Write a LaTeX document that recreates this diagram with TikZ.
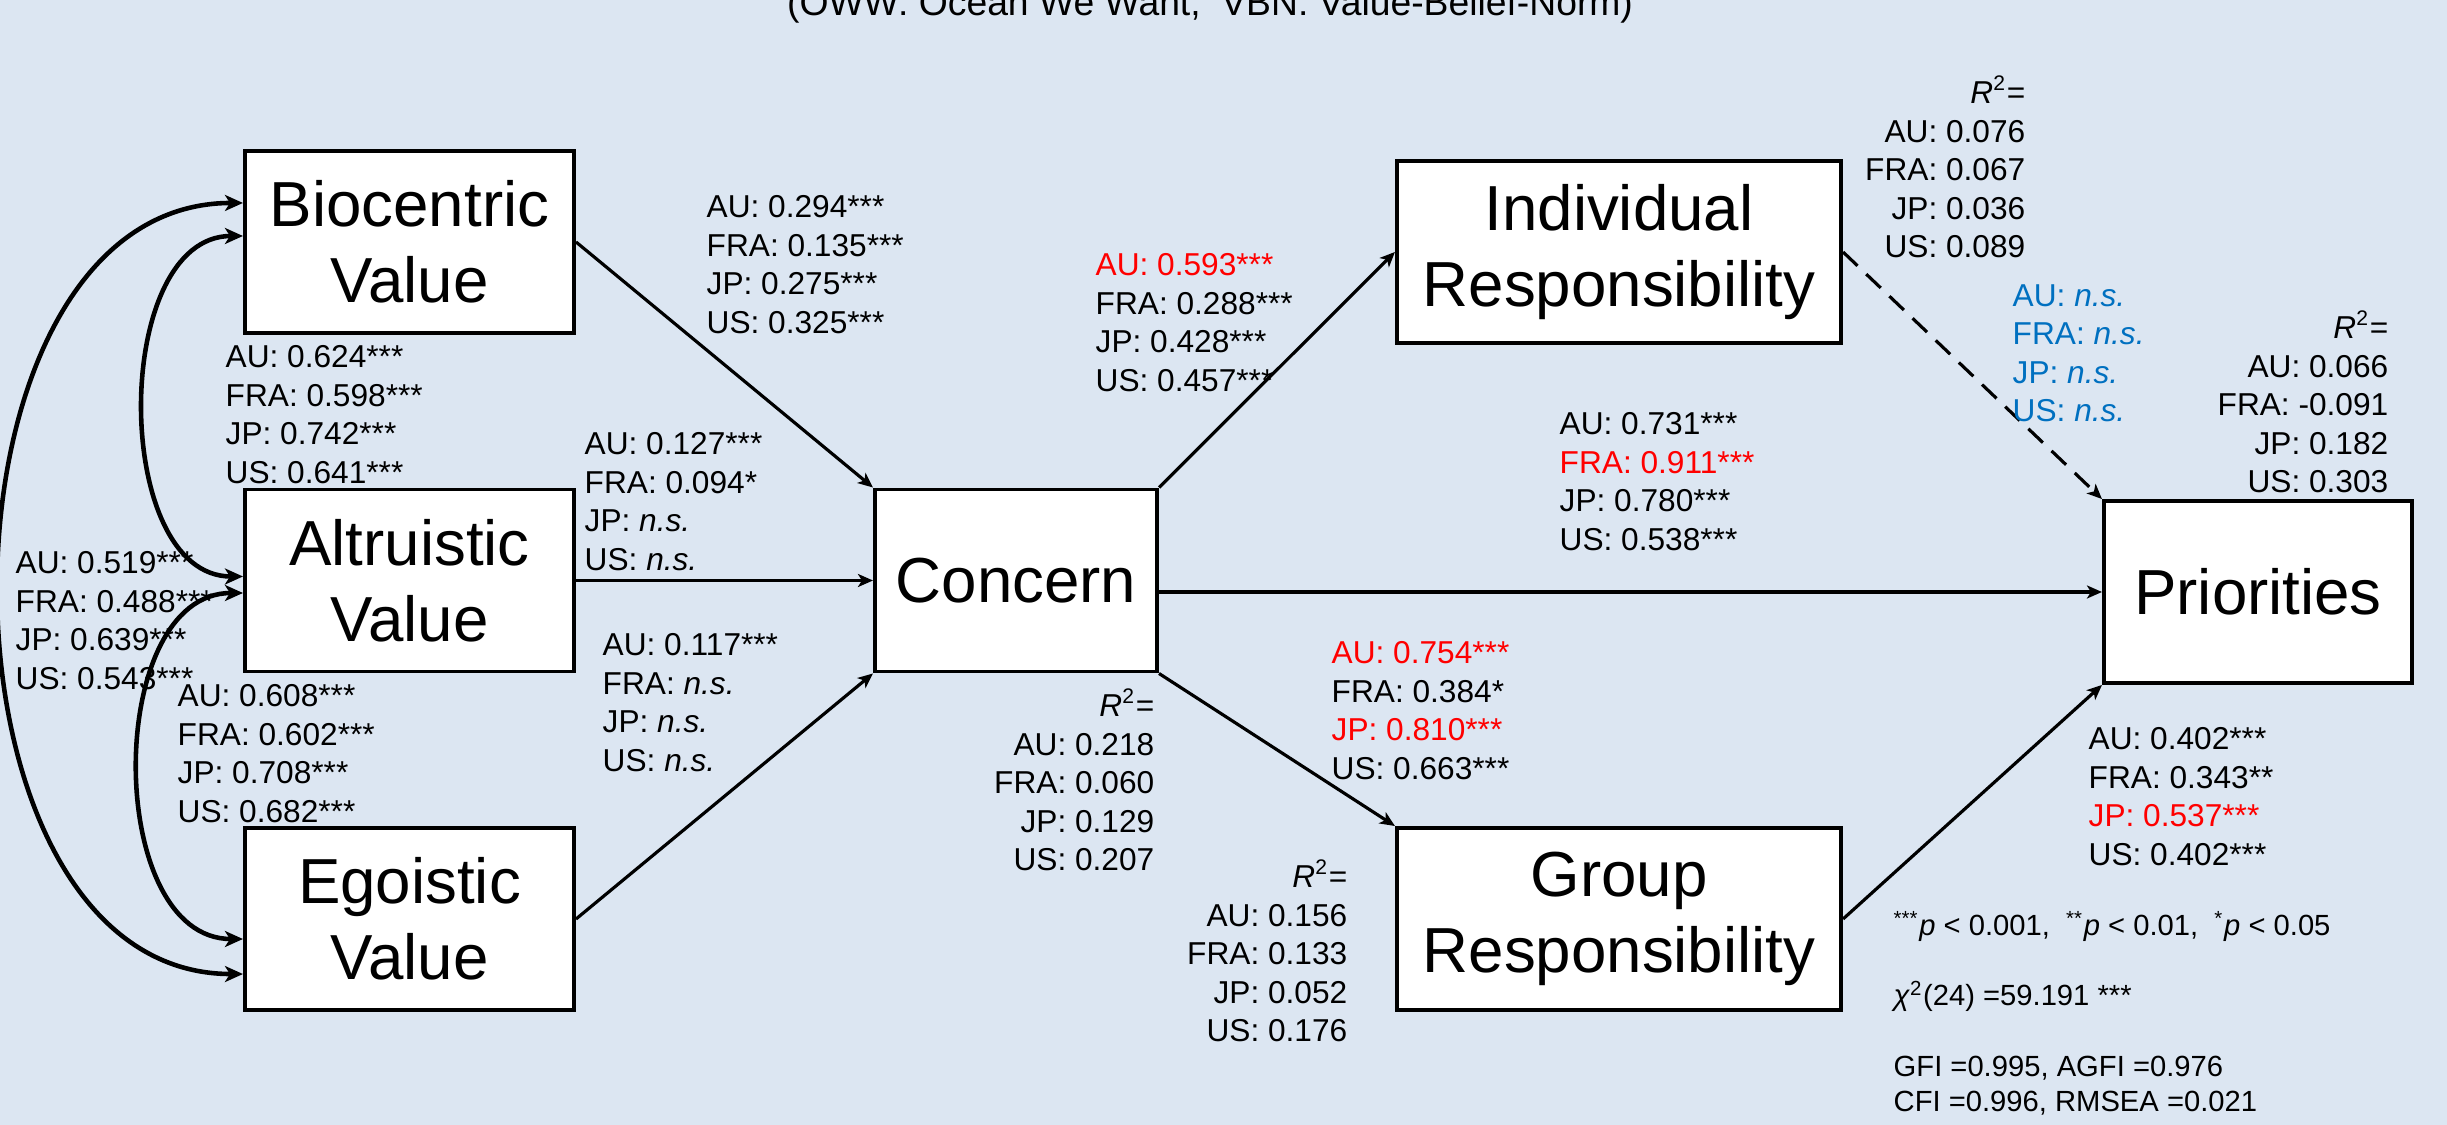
\documentclass[tikz,border=0pt]{standalone}
\usepackage{fontspec}
\setmainfont{Liberation Sans}
\usepackage{xcolor}
\usepackage{tikz}
\usetikzlibrary{arrows.meta}
\definecolor{bgblue}{HTML}{DCE6F2}
\definecolor{sigred}{HTML}{FF0000}
\definecolor{nsblue}{HTML}{0070C0}
\tikzset{
  var/.style={draw, line width=1.1pt, fill=white, inner sep=0pt, align=center, minimum width=3.29cm, minimum height=1.82cm, font=\fontsize{18.1}{21.6}\selectfont},
  coef/.style={anchor=north west, inner sep=0pt, align=left, font=\fontsize{9}{10.95}\selectfont},
  rsq/.style={anchor=north east, inner sep=0pt, align=right, font=\fontsize{9}{10.95}\selectfont},
  note/.style={anchor=north west, inner sep=0pt, align=left, font=\fontsize{8.3}{10}\selectfont},
  effect/.style={-{Stealth[length=0.15cm, width=0.13cm, inset=0.04cm]}, line width=0.9pt},
  nseffect/.style={effect, dash pattern=on 0.2cm off 0.12cm},
  corr/.style={{Stealth[length=0.18cm, width=0.16cm, inset=0.05cm]}-{Stealth[length=0.18cm, width=0.16cm, inset=0.05cm]}, line width=1.3pt}
}
\begin{document}
\begin{tikzpicture}[x=0.01cm, y=-0.01cm]
  \useasboundingbox (0,0) rectangle (2447,1125);
  \fill[bgblue] (0,0) rectangle (2447,1125);
  \node[anchor=base, inner sep=0pt, font=\fontsize{10.6}{12}\selectfont] (title) at (1210,16) {(OWW: Ocean We Want,\ \ VBN: Value-Belief-Norm)};

  % Constructs
  \node[var] (Bio) at (409.5,242) {Biocentric\\Value};
  \node[var] (Alt) at (409.5,580.5) {Altruistic\\Value};
  \node[var] (Ego) at (409.5,919) {Egoistic\\Value};
  \node[var, minimum width=2.82cm] (Con) at (1016,580.5) {Concern};
  \node[var, minimum width=4.44cm] (Ind) at (1619,252) {Individual\\Responsibility};
  \node[var, minimum width=4.44cm] (Grp) at (1619,919) {Group\\Responsibility};
  \node[var, minimum width=3.08cm] (Pri) at (2258,592) {Priorities};

  % Paths
  \draw[effect] (Bio.east) -- (Con.north west);
  \draw[effect] (Alt.east) -- (Con.west);
  \draw[effect] (Ego.east) -- (Con.south west);
  \draw[effect] (Con.north east) -- (Ind.west);
  \draw[effect] (Con.east |- Pri.west) -- (Pri.west);
  \draw[effect] (Con.south east) -- (Grp.north west);
  \draw[nseffect] (Ind.east) -- (Pri.north west);
  \draw[effect] (Grp.east) -- (Pri.south west);

  % Correlations
  \draw[corr] ([yshift=0.39cm]Bio.west) .. controls +(-324,0) and +(-324,0) .. ([yshift=-0.55cm]Ego.west);
  \draw[corr] ([yshift=0.06cm]Bio.west) .. controls +(-132,0) and +(-132,0) .. ([yshift=0.04cm]Alt.west);
  \draw[corr] ([yshift=-0.125cm]Alt.west) .. controls +(-139,0) and +(-139,0) .. ([yshift=-0.2cm]Ego.west);

  % Coefficients
  \node[coef] (kBioAlt) at (225,345) {AU: 0.624***\\FRA: 0.598***\\JP: 0.742***\\US: 0.641***};
  \node[coef] (kBioEgo) at (15,551) {AU: 0.519***\\FRA: 0.488***\\JP: 0.639***\\US: 0.543***};
  \node[coef] (kAltEgo) at (177,684) {AU: 0.608***\\FRA: 0.602***\\JP: 0.708***\\US: 0.682***};
  \node[coef] (kBioCon) at (706,195) {AU: 0.294***\\FRA: 0.135***\\JP: 0.275***\\US: 0.325***};
  \node[coef] (kAltCon) at (584,432) {AU: 0.127***\\FRA: 0.094*\\JP: \textit{n.s.}\\US: \textit{n.s.}};
  \node[coef] (kEgoCon) at (602,633) {AU: 0.117***\\FRA: \textit{n.s.}\\JP: \textit{n.s.}\\US: \textit{n.s.}};
  \node[coef] (kConInd) at (1095,253) {\textcolor{sigred}{AU: 0.593***}\\FRA: 0.288***\\JP: 0.428***\\US: 0.457***};
  \node[coef] (kConPri) at (1559,412) {AU: 0.731***\\\textcolor{sigred}{FRA: 0.911***}\\JP: 0.780***\\US: 0.538***};
  \node[coef] (kConGrp) at (1331,641) {\textcolor{sigred}{AU: 0.754***}\\FRA: 0.384*\\\textcolor{sigred}{JP: 0.810***}\\US: 0.663***};
  \node[coef, text=nsblue] (kIndPri) at (2012,284) {AU: \textit{n.s.}\\FRA: \textit{n.s.}\\JP: \textit{n.s.}\\US: \textit{n.s.}};
  \node[coef] (kGrpPri) at (2088,727) {AU: 0.402***\\FRA: 0.343**\\\textcolor{sigred}{JP: 0.537***}\\US: 0.402***};

  % Explained variance
  \node[rsq] (rCon) at (1155,688) {\textit{R}\textsuperscript{2}=\\AU: 0.218\\FRA: 0.060\\JP: 0.129\\US: 0.207};
  \node[rsq] (rInd) at (2026,75) {\textit{R}\textsuperscript{2}=\\AU: 0.076\\FRA: 0.067\\JP: 0.036\\US: 0.089};
  \node[rsq] (rPri) at (2389,310) {\textit{R}\textsuperscript{2}=\\AU: 0.066\\FRA: -0.091\\JP: 0.182\\US: 0.303};
  \node[rsq] (rGrp) at (1348,859) {\textit{R}\textsuperscript{2}=\\AU: 0.156\\FRA: 0.133\\JP: 0.052\\US: 0.176};

  % Fit
  \node[note] (fit) at (1893,911) {\textsuperscript{***}\textit{p} < 0.001,\ \ \textsuperscript{**}\textit{p} < 0.01,\ \ \textsuperscript{*}\textit{p} < 0.05\\[0.35cm]
    \textit{χ}\textsuperscript{2}(24) =59.191 ***\\[0.35cm]
    GFI =0.995, AGFI =0.976\\CFI =0.996, RMSEA =0.021};
\end{tikzpicture}
\end{document}
